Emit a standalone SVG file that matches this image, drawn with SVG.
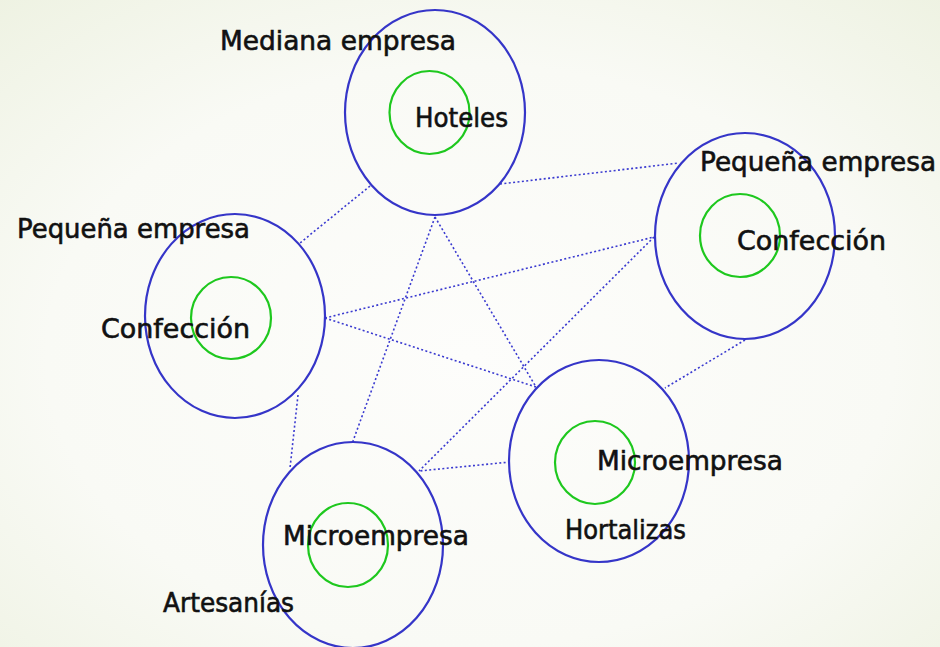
<svg xmlns="http://www.w3.org/2000/svg" width="940" height="647" viewBox="0 0 940 647">
<defs>
<radialGradient id="bg" cx="50%" cy="55%" r="75%">
<stop offset="0" stop-color="#fdfdfb"/>
<stop offset="0.6" stop-color="#f9faf5"/>
<stop offset="1" stop-color="#eef2e2"/>
</radialGradient>
<style>
.outer{fill:none;stroke:#3535c8;stroke-width:2.2}
.inner{fill:none;stroke:#1ec81e;stroke-width:2.2}
.link{fill:none;stroke:#3a3ad0;stroke-width:1.6;stroke-dasharray:2 2.4}
.lbl{font-family:"DejaVu Sans","Liberation Sans",sans-serif;font-size:26px;fill:#111;stroke:#111;stroke-width:0.6}
</style>
</defs>
<rect width="940" height="647" fill="url(#bg)"/>
<g id="connectors">
<line class="link" x1="370" y1="186" x2="300" y2="243"/>
<line class="link" x1="500" y1="184" x2="679" y2="163"/>
<line class="link" x1="435" y1="217" x2="353" y2="441"/>
<line class="link" x1="435" y1="217" x2="536" y2="387"/>
<line class="link" x1="325" y1="318" x2="654" y2="237"/>
<line class="link" x1="325" y1="318" x2="536" y2="387"/>
<line class="link" x1="298" y1="395" x2="290" y2="468"/>
<line class="link" x1="654" y1="237" x2="419" y2="471"/>
<line class="link" x1="745" y1="340" x2="665" y2="388"/>
<line class="link" x1="510" y1="462" x2="419" y2="471"/>
</g>
<g id="node-hoteles">
<ellipse class="outer" cx="435" cy="112.5" rx="90" ry="102.5"/>
<ellipse class="inner" cx="429.5" cy="112.5" rx="40" ry="41.5"/>
<text class="lbl" x="220" y="50" textLength="236" lengthAdjust="spacingAndGlyphs">Mediana empresa</text>
<text class="lbl" x="415" y="127" textLength="93" lengthAdjust="spacingAndGlyphs">Hoteles</text>
</g>
<g id="node-confeccion-right">
<ellipse class="outer" cx="745" cy="236" rx="90" ry="103"/>
<ellipse class="inner" cx="740" cy="235.5" rx="40" ry="41.5"/>
<text class="lbl" x="700" y="171" textLength="236" lengthAdjust="spacingAndGlyphs">Pequeña empresa</text>
<text class="lbl" x="737" y="250" textLength="149" lengthAdjust="spacingAndGlyphs">Confección</text>
</g>
<g id="node-confeccion-left">
<ellipse class="outer" cx="235" cy="316" rx="90" ry="102"/>
<ellipse class="inner" cx="231" cy="318" rx="40" ry="41"/>
<text class="lbl" x="17" y="238" textLength="233" lengthAdjust="spacingAndGlyphs">Pequeña empresa</text>
<text class="lbl" x="101" y="338" textLength="149" lengthAdjust="spacingAndGlyphs">Confección</text>
</g>
<g id="node-hortalizas">
<ellipse class="outer" cx="599" cy="461" rx="90" ry="101"/>
<ellipse class="inner" cx="595" cy="462.5" rx="40" ry="41.5"/>
<text class="lbl" x="597" y="470" textLength="186" lengthAdjust="spacingAndGlyphs">Microempresa</text>
<text class="lbl" x="565" y="539" textLength="121" lengthAdjust="spacingAndGlyphs">Hortalizas</text>
</g>
<g id="node-artesanias">
<ellipse class="outer" cx="353" cy="545" rx="90" ry="103"/>
<ellipse class="inner" cx="348" cy="545" rx="40" ry="42"/>
<text class="lbl" x="283" y="545" textLength="186" lengthAdjust="spacingAndGlyphs">Microempresa</text>
<text class="lbl" x="163" y="612" textLength="131" lengthAdjust="spacingAndGlyphs">Artesanías</text>
</g>
</svg>
